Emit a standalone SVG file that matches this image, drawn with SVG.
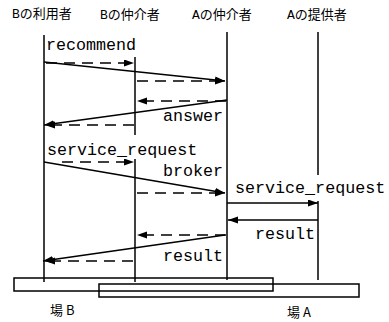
<svg xmlns="http://www.w3.org/2000/svg" width="389" height="322" viewBox="0 0 389 322">
<style>
.hdr{font-family:"Liberation Mono","Noto Sans CJK JP",monospace;font-size:13px;fill:#000}
.lbl{font-family:"Liberation Mono",monospace;font-size:16.7px;fill:#000}
.field{font-family:"Noto Sans CJK JP","Liberation Sans",sans-serif;font-size:13px;fill:#000}
.life{stroke:#000;stroke-width:1.5;fill:none}
.msg{stroke:#000;stroke-width:1.5;fill:none;marker-end:url(#ah)}
.dash{stroke:#000;stroke-width:1.5;fill:none;stroke-dasharray:11 7;marker-end:url(#ah)}
.box{fill:none;stroke:#000;stroke-width:1.5}
</style>
<defs>
<marker id="ah" markerUnits="userSpaceOnUse" markerWidth="11" markerHeight="8" refX="10" refY="3.5" orient="auto">
<path d="M0,0 L10,3.5 L0,7 z" fill="#000"/>
</marker>
</defs>
<rect width="389" height="322" fill="#fff"/>
<g id="b-user">
<text class="hdr" x="12" y="18">Bの利用者</text>
<line class="life" x1="44" y1="35" x2="44" y2="282"/>
</g>
<g id="b-broker">
<text class="hdr" x="100" y="19">Bの仲介者</text>
<line class="life" x1="135" y1="57" x2="135" y2="135"/>
<line class="life" x1="135" y1="159" x2="135" y2="282"/>
</g>
<g id="a-broker">
<text class="hdr" x="192" y="19">Aの仲介者</text>
<line class="life" x1="227" y1="32" x2="227" y2="280"/>
</g>
<g id="a-provider">
<text class="hdr" x="287" y="19">Aの提供者</text>
<line class="life" x1="318" y1="32" x2="318" y2="175"/>
<line class="life" x1="318" y1="201" x2="318" y2="280"/>
</g>
<g id="field-b">
<rect class="box" x="14" y="278" width="259" height="13"/>
<text class="field" x="50" y="315">場 B</text>
</g>
<g id="field-a">
<rect class="box" x="99" y="284" width="260" height="13"/>
<text class="field" x="287" y="317">場 A</text>
</g>
<g id="connectors">
<line class="msg" x1="44" y1="62" x2="225" y2="81"/>
<line class="dash" x1="46" y1="63" x2="134" y2="63"/>
<line class="dash" x1="137" y1="81" x2="225" y2="81"/>
<line class="msg" x1="227" y1="100" x2="44" y2="125"/>
<line class="dash" x1="226" y1="101" x2="137" y2="101"/>
<line class="dash" x1="134" y1="125" x2="45" y2="125"/>
<line class="msg" x1="44" y1="162" x2="225" y2="193"/>
<line class="dash" x1="62" y1="162" x2="134" y2="162"/>
<line class="dash" x1="137" y1="193" x2="225" y2="193"/>
<line class="msg" x1="227" y1="203" x2="318" y2="203"/>
<line class="msg" x1="318" y1="220" x2="228" y2="220"/>
<line class="dash" x1="226" y1="235" x2="137" y2="235"/>
<line class="msg" x1="225" y1="235" x2="43" y2="261"/>
<line class="dash" x1="133" y1="261" x2="45" y2="261"/>
</g>
<g id="labels">
<text class="lbl" x="46" y="50">recommend</text>
<text class="lbl" x="223" y="121" text-anchor="end">answer</text>
<text class="lbl" x="47" y="155">service_request</text>
<text class="lbl" x="223" y="176" text-anchor="end">broker</text>
<text class="lbl" x="235" y="193">service_request</text>
<text class="lbl" x="315" y="239" text-anchor="end">result</text>
<text class="lbl" x="223" y="261" text-anchor="end">result</text>
</g>
</svg>
